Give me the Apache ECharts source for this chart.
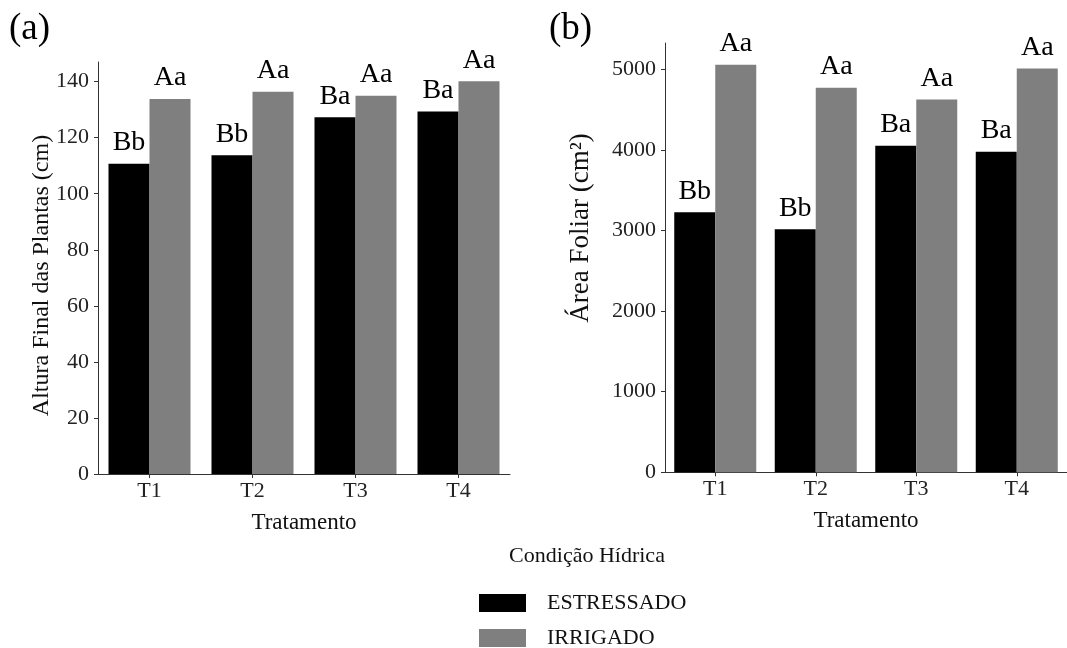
<!DOCTYPE html>
<html>
<head>
<meta charset="utf-8">
<script src="https://cdn.jsdelivr.net/npm/echarts@6/dist/echarts.min.js"></script>
<style>
html,body{margin:0;padding:0;background:#fff;}
#chart{width:1067px;height:648px;}
</style>
</head>
<body>
<div id="chart"></div>
<script>
const categories = ['T1', 'T2', 'T3', 'T4'];
const seriesNames = ['ESTRESSADO', 'IRRIGADO'];
const alturaEstressado = [110.7, 113.7, 127.3, 129.3];
const alturaIrrigado = [133.8, 136.4, 135.0, 140.1];
const areaEstressado = [3227, 3016, 4052, 3978];
const areaIrrigado = [5056, 4771, 4626, 5010];
const alturaLetrasEstressado = ['Bb', 'Bb', 'Ba', 'Ba'];
const alturaLetrasIrrigado = ['Aa', 'Aa', 'Aa', 'Aa'];
const areaLetrasEstressado = ['Bb', 'Bb', 'Ba', 'Ba'];
const areaLetrasIrrigado = ['Aa', 'Aa', 'Aa', 'Aa'];
const alturaTicks = [0, 20, 40, 60, 80, 100, 120, 140];
const areaTicks = [0, 1000, 2000, 3000, 4000, 5000];

const FONT = '"Liberation Serif", "Times New Roman", serif';
const AXIS_COLOR = '#333333';
const BLACK = '#000000';
const GRAY = '#7f7f7f';

const chart = echarts.init(document.getElementById('chart'), null, {renderer: 'canvas'});

function xAxisDef(gridIndex) {
  return {
    type: 'category', gridIndex: gridIndex, data: categories,
    name: 'Tratamento', nameLocation: 'middle', nameGap: 37,
    nameTextStyle: {fontFamily: FONT, fontSize: 23, color: '#111'},
    axisLine: {show: true, lineStyle: {color: AXIS_COLOR, width: 1}},
    axisTick: {show: true, alignWithLabel: true, length: 4, lineStyle: {color: AXIS_COLOR}},
    axisLabel: {fontFamily: FONT, fontSize: 22, color: '#222', margin: 6},
    splitLine: {show: false}
  };
}
function yAxisDef(gridIndex, max, ticks) {
  return {
    type: 'value', gridIndex: gridIndex, min: 0, max: max,
    axisLine: {show: true, lineStyle: {color: AXIS_COLOR, width: 1}},
    axisTick: {show: true, length: 4, lineStyle: {color: AXIS_COLOR}, customValues: ticks},
    axisLabel: {fontFamily: FONT, fontSize: 22, color: '#222', margin: 9, customValues: ticks,
      formatter: function (v) { return String(v); }},
    splitLine: {show: false}
  };
}
function barSeries(name, data, letters, color, xi, yi) {
  return {
    type: 'bar', name: name, data: data, xAxisIndex: xi, yAxisIndex: yi,
    barWidth: 41, barGap: '0%',
    itemStyle: {color: color},
    label: {
      show: true, position: 'top', distance: 7,
      fontFamily: FONT, fontSize: 28, color: '#000',
      formatter: function (p) { return letters[p.dataIndex]; }
    }
  };
}
function legendDef(name, top) {
  return {
    data: [name], orient: 'vertical', left: 479, top: top,
    itemWidth: 47, itemHeight: 18, icon: 'rect', padding: 0,
    selectedMode: false,
    textStyle: {fontFamily: FONT, fontSize: 22, color: '#111', padding: [0, 0, 0, 16]}
  };
}

const option = {
  backgroundColor: '#ffffff',
  animation: false,
  grid: [
    {left: 98, top: 62, width: 412, height: 412, containLabel: false},
    {left: 665, top: 43, width: 412, height: 429.3, containLabel: false}
  ],
  xAxis: [xAxisDef(0), xAxisDef(1)],
  yAxis: [yAxisDef(0, 147, alturaTicks), yAxisDef(1, 5326, areaTicks)],
  legend: [legendDef(seriesNames[0], 592), legendDef(seriesNames[1], 627)],
  series: [
    barSeries(seriesNames[0], alturaEstressado, alturaLetrasEstressado, BLACK, 0, 0),
    barSeries(seriesNames[1], alturaIrrigado, alturaLetrasIrrigado, GRAY, 0, 0),
    barSeries(seriesNames[0], areaEstressado, areaLetrasEstressado, BLACK, 1, 1),
    barSeries(seriesNames[1], areaIrrigado, areaLetrasIrrigado, GRAY, 1, 1)
  ],
  graphic: [
    {type: 'text', x: 9, y: 11, style: {text: '(a)', font: '37px ' + FONT, fill: '#000'}},
    {type: 'text', x: 549, y: 11, style: {text: '(b)', font: '37px ' + FONT, fill: '#000'}},
    {type: 'text', x: 41.5, y: 275.5, rotation: Math.PI / 2,
     style: {text: 'Altura Final das Plantas (cm)', font: '24px ' + FONT, fill: '#111', align: 'center', verticalAlign: 'middle', textAlign: 'center', textVerticalAlign: 'middle'}},
    {type: 'text', x: 581, y: 228, rotation: Math.PI / 2,
     style: {text: 'Área Foliar (cm²)', font: '27px ' + FONT, fill: '#111', align: 'center', verticalAlign: 'middle', textAlign: 'center', textVerticalAlign: 'middle'}},
    {type: 'text', x: 587, y: 556,
     style: {text: 'Condição Hídrica', font: '22px ' + FONT, fill: '#111', align: 'center', verticalAlign: 'middle', textAlign: 'center', textVerticalAlign: 'middle'}}
  ]
};
chart.setOption(option);
</script>
</body>
</html>
